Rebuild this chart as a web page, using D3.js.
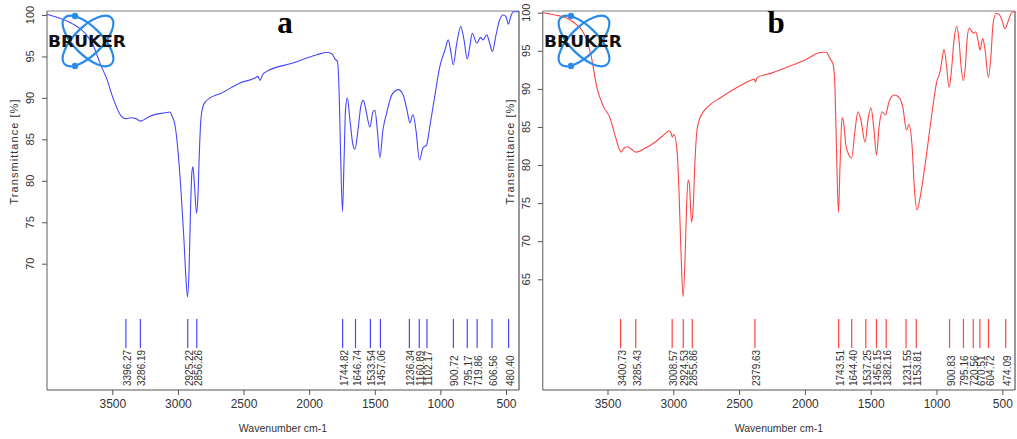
<!DOCTYPE html>
<html>
<head>
<meta charset="utf-8">
<script src="https://cdn.jsdelivr.net/npm/d3@7"></script>
<style>
	body { margin: 0; background: #fff; }
	svg { display: block; }
</style>
</head>
<body>
<div id="chart"></div>
<script>
// spectrum a (blue): wavenumber [cm-1] and transmittance [%]
const specAWave = [3998, 3899, 3799, 3708, 3647, 3594, 3540, 3495, 3457, 3426, 3396, 3357, 3320, 3286, 3213, 3098, 3060,
	3045, 3022, 3000, 2977, 2954, 2938, 2927, 2915, 2904, 2893, 2885, 2874, 2858, 2847, 2836, 2824, 2801, 2755, 2679,
	2527, 2413, 2390, 2375, 2355, 2322, 2124, 1941, 1864, 1826, 1803, 1785, 1772, 1761, 1746, 1734, 1723, 1709, 1689,
	1666, 1651, 1628, 1605, 1587, 1567, 1537, 1514, 1499, 1480, 1461, 1438, 1409, 1369, 1321, 1285, 1254, 1232, 1209,
	1186, 1159, 1132, 1106, 1079, 1041, 1004, 965, 940, 923, 902, 877, 845, 820, 795, 774, 757, 723, 693, 675, 647,
	626, 604, 576, 549, 520, 500, 482, 462, 444, 401];
const specATrans = [100.1, 99.6, 98.9, 97.8, 96.4, 94.2, 92.2, 90.0, 88.5, 87.7, 87.5, 87.6, 87.5, 87.2, 87.8, 88.2, 88.3,
	87.8, 86.7, 83.7, 78.9, 72.9, 68.0, 66.0, 69.2, 76.5, 81.1, 81.7, 79.5, 76.1, 78.3, 83.7, 87.6, 89.3, 90.0, 90.5,
	91.8, 92.4, 92.6, 92.1, 92.8, 93.2, 94.2, 95.2, 95.5, 95.3, 94.7, 94.4, 91.0, 83.7, 76.3, 82.5, 88.5, 90.0, 87.3,
	84.3, 83.8, 86.1, 89.1, 89.7, 88.5, 86.5, 88.3, 88.5, 86.1, 82.8, 86.1, 88.2, 90.4, 91.0, 90.4, 88.5, 87.0, 88.0,
	86.1, 82.5, 84.0, 84.3, 86.7, 90.4, 93.8, 95.8, 97.0, 95.8, 94.0, 96.4, 98.6, 97.0, 94.7, 96.4, 97.8, 96.6, 97.3, 97.0, 97.6,
	96.7, 95.6, 97.6, 99.4, 100.0, 99.8, 98.9, 99.9, 100.4, 100.4];

// spectrum b (red)
const specBWave = [3990, 3899, 3810, 3734, 3694, 3658, 3625, 3582, 3532, 3481, 3443, 3413, 3397, 3375, 3345, 3314, 3283,
	3215, 3139, 3063, 3033, 3020, 3008, 2995, 2972, 2957, 2942, 2926, 2911, 2900, 2888, 2877, 2862, 2850, 2835, 2820,
	2797, 2721, 2645, 2493, 2402, 2385, 2375, 2362, 2266, 2114, 1999, 1872, 1840, 1809, 1784, 1771, 1760, 1745, 1733,
	1718, 1707, 1688, 1665, 1646, 1619, 1597, 1574, 1543, 1521, 1498, 1475, 1456, 1437, 1414, 1388, 1361, 1323, 1285,
	1255, 1228, 1209, 1186, 1167, 1148, 1125, 1087, 1036, 999, 973, 958, 943, 924, 905, 886, 867, 847, 829, 814, 796,
	780, 768, 751, 730, 715, 702, 685, 670, 649, 631, 606, 586, 571, 548, 525, 502, 480, 457, 424, 404];
const specBTrans = [100.0, 99.7, 99.3, 98.4, 97.7, 96.4, 94.4, 90.3, 87.7, 86.2, 83.9, 82.2, 81.7, 82.2, 82.4, 82.0, 81.7,
	82.2, 83.0, 84.1, 84.5, 84.3, 83.7, 84.0, 82.0, 76.7, 68.8, 62.7, 67.5, 74.1, 78.0, 77.4, 72.5, 74.1, 80.6, 84.6,
	86.2, 87.9, 88.8, 90.4, 91.2, 91.3, 90.9, 91.5, 92.0, 93.0, 93.8, 94.8, 94.8, 94.0, 93.1, 89.9, 82.0, 73.8, 80.0,
	86.2, 85.7, 82.6, 81.3, 80.9, 84.6, 87.0, 85.9, 83.0, 85.9, 87.5, 84.6, 81.3, 84.9, 87.0, 86.6, 88.3, 89.2, 88.9,
	87.5, 84.6, 85.3, 82.6, 76.7, 74.1, 75.7, 80.0, 86.6, 90.9, 92.3, 93.8, 95.2, 93.1, 90.2, 92.5, 96.4, 98.2, 96.4, 93.1, 91.1,
	93.1, 96.4, 98.0, 97.5, 97.3, 97.5, 96.4, 95.1, 96.6, 95.1, 91.5, 94.4, 98.4, 99.9, 99.8, 99.0, 97.9, 98.8, 100.1, 100.1];

// peak picking labels
const peaksA = ['3396.27', '3286.19', '2925.22', '2856.26', '1744.82', '1646.74', '1533.54', '1457.06', '1236.34',
	'1160.89', '1102.17', '900.72', '795.17', '719.86', '606.56', '480.40'];
const peaksB = ['3400.73', '3285.43', '3008.57', '2924.53', '2855.86', '2379.63', '1743.51', '1644.40', '1537.25',
	'1456.15', '1382.16', '1231.55', '1153.81', '900.83', '795.16', '720.56', '670.51', '604.72', '474.09'];

const xTicks = [3500, 3000, 2500, 2000, 1500, 1000, 500];
const yTicksA = [70, 75, 80, 85, 90, 95, 100];
const yTicksB = [65, 70, 75, 80, 85, 90, 95, 100];

const width = 1017;
const height = 439;
const narrow = "'Liberation Sans Narrow', 'Liberation Sans', Arial, sans-serif";
const sans = "'Liberation Sans', Arial, sans-serif";

const svg = d3
	.select('#chart')
	.append('svg')
	.attr('width', width)
	.attr('height', height);

const drawPanel = (p) => {
	const g = svg.append('g');

	const xScale = d3.scaleLinear().domain([3500, 500]).range(p.xRange);
	const yScale = d3.scaleLinear().domain(p.yCal).range(p.yRange);

	// frame
	g.append('line').attr('x1', p.left).attr('x2', p.right).attr('y1', p.top).attr('y2', p.top)
		.attr('stroke', '#a8a8a8').attr('stroke-width', 1.6);
	g.append('line').attr('x1', p.left).attr('x2', p.left).attr('y1', p.top).attr('y2', p.bottom)
		.attr('stroke', '#8a8a8a').attr('stroke-width', 1.4);
	g.append('line').attr('x1', p.right).attr('x2', p.right).attr('y1', p.top).attr('y2', p.bottom)
		.attr('stroke', '#555').attr('stroke-width', 1.2);
	g.append('line').attr('x1', p.left).attr('x2', p.right).attr('y1', p.bottom).attr('y2', p.bottom)
		.attr('stroke', '#555').attr('stroke-width', 1.2);

	// x axis
	const xAxis = g
		.append('g')
		.attr('transform', `translate(0,${p.bottom})`)
		.call(d3.axisBottom(xScale).tickValues(xTicks).tickSize(5).tickPadding(4).tickFormat(d3.format('d')));
	xAxis.select('.domain').remove();
	xAxis.selectAll('line').attr('stroke', '#555');
	xAxis.selectAll('text').attr('font-family', narrow).attr('font-size', 12).attr('fill', '#333');

	// y axis, labels rotated like the instrument output
	const yAxis = g
		.append('g')
		.attr('transform', `translate(${p.left},0)`)
		.call(d3.axisLeft(yScale).tickValues(p.yTicks).tickSize(5).tickFormat(''));
	yAxis.select('.domain').remove();
	yAxis.selectAll('line').attr('stroke', '#555');
	g.selectAll('.ylab')
		.data(p.yTicks)
		.enter()
		.append('text')
		.attr('class', 'ylab')
		.attr('transform', (d) => `translate(${p.left - 17},${yScale(d)}) rotate(-90)`)
		.attr('text-anchor', 'middle')
		.attr('dominant-baseline', 'central')
		.attr('font-family', sans)
		.attr('font-size', 11)
		.attr('fill', '#333')
		.text((d) => d);

	g.append('text')
		.attr('transform', `translate(${p.left - 33},152) rotate(-90)`)
		.attr('text-anchor', 'middle')
		.attr('dominant-baseline', 'central')
		.attr('font-family', sans)
		.attr('font-size', 11)
		.attr('textLength', 105)
		.attr('lengthAdjust', 'spacing')
		.attr('fill', '#333')
		.text('Transmittance [%]');

	g.append('text')
		.attr('x', (p.left + p.right) / 2)
		.attr('y', 432)
		.attr('text-anchor', 'middle')
		.attr('font-family', narrow)
		.attr('font-size', 10.5)
		.attr('fill', '#333')
		.text('Wavenumber cm-1');

	// spectrum
	const points = p.wave.map((w, i) => ({ w, t: p.trans[i] }));
	const line = d3
		.line()
		.x((d) => xScale(d.w))
		.y((d) => yScale(d.t))
		.curve(d3.curveMonotoneX);
	g.append('path')
		.datum(points)
		.attr('fill', 'none')
		.attr('stroke', p.color)
		.attr('stroke-width', 1.1)
		.attr('d', line);

	// peak markers
	g.selectAll('.peak')
		.data(p.peaks)
		.enter()
		.append('line')
		.attr('class', 'peak')
		.attr('x1', (d) => xScale(+d))
		.attr('x2', (d) => xScale(+d))
		.attr('y1', 319)
		.attr('y2', 348)
		.attr('stroke', p.color)
		.attr('stroke-width', 1.2);
	g.selectAll('.peaklab')
		.data(p.peaks)
		.enter()
		.append('text')
		.attr('class', 'peaklab')
		.attr('transform', (d) => `translate(${xScale(+d) + 1.5},386) rotate(-90)`)
		.attr('dominant-baseline', 'central')
		.attr('font-family', narrow)
		.attr('font-size', 10)
		.attr('fill', '#333')
		.text((d) => d);

	// panel letter
	g.append('text')
		.attr('x', p.letterX)
		.attr('y', 33)
		.attr('text-anchor', 'middle')
		.attr('font-family', "'Liberation Serif', 'Times New Roman', serif")
		.attr('font-weight', 'bold')
		.attr('font-size', 31)
		.attr('fill', '#000')
		.text(p.letter);

	// BRUKER logo
	const logo = g.append('g').attr('transform', `translate(${p.logoX},41)`);
	[45, -45].forEach((a) => {
		logo.append('ellipse')
			.attr('rx', 33)
			.attr('ry', 14)
			.attr('transform', `rotate(${a})`)
			.attr('fill', 'none')
			.attr('stroke', '#2a8ce8')
			.attr('stroke-width', 2.2);
	});
	[-25, 25].forEach((dy) => {
		logo.append('circle').attr('cx', -13).attr('cy', dy).attr('r', 3.2).attr('fill', '#2a8ce8');
	});
	logo.append('text')
		.attr('x', -1)
		.attr('y', 6)
		.attr('text-anchor', 'middle')
		.attr('font-family', "'DejaVu Sans', sans-serif")
		.attr('font-weight', 'bold')
		.attr('font-size', 15)
		.attr('textLength', 78)
		.attr('lengthAdjust', 'spacingAndGlyphs')
		.attr('fill', '#111')
		.text('BRUKER');
};

drawPanel({
	left: 47, right: 519, top: 11, bottom: 390,
	xRange: [112.3, 506],
	yCal: [70, 100], yRange: [263.7, 15],
	yTicks: yTicksA,
	wave: specAWave, trans: specATrans,
	peaks: peaksA,
	color: '#4646ff',
	letter: 'a', letterX: 285,
	logoX: 88
});

drawPanel({
	left: 542.7, right: 1015, top: 11, bottom: 390,
	xRange: [607.5, 1002.3],
	yCal: [65, 100], yRange: [279.3, 12.7],
	yTicks: yTicksB,
	wave: specBWave, trans: specBTrans,
	peaks: peaksB,
	color: '#ff4444',
	letter: 'b', letterX: 776,
	logoX: 584
});
</script>
</body>
</html>
